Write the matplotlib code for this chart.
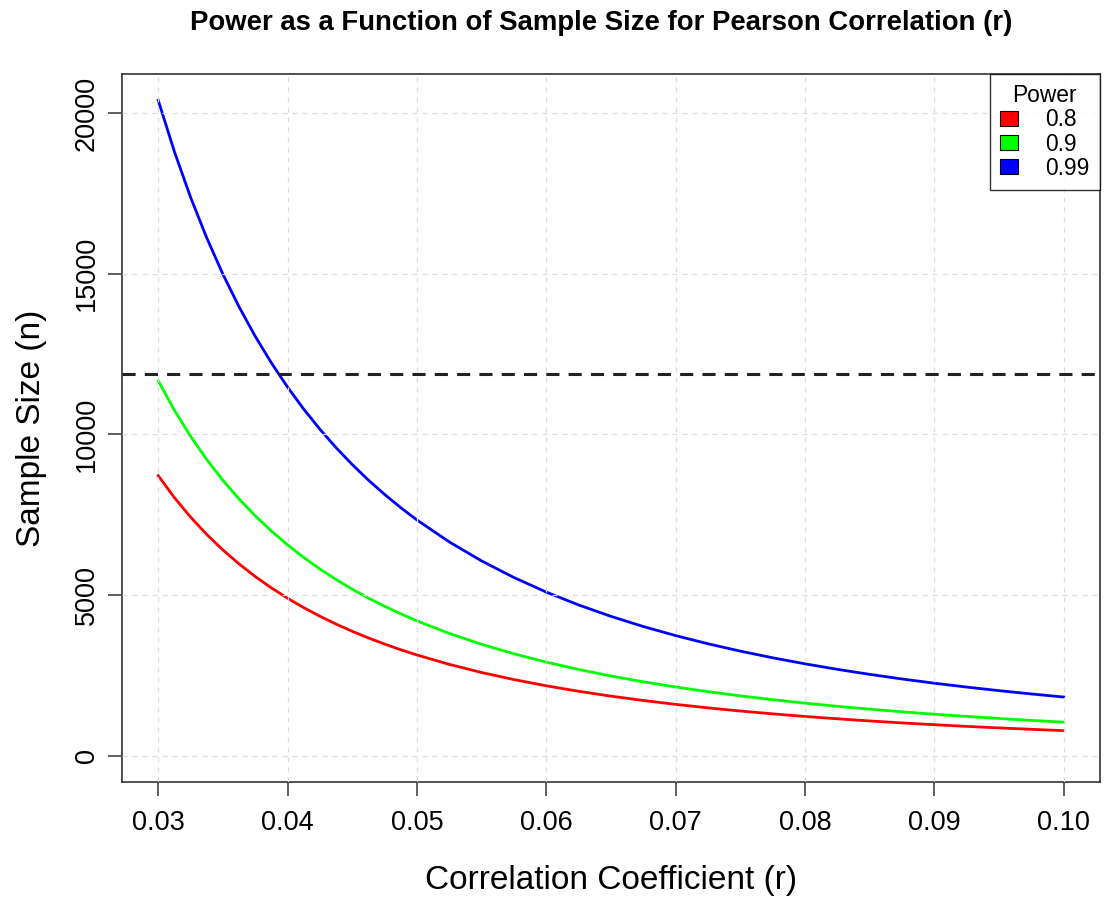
import matplotlib
matplotlib.use('Agg')
import matplotlib.pyplot as plt
import matplotlib.patches as mpatches

plt.rcParams['font.family'] = ['Liberation Sans', 'DejaVu Sans']

#  Correlation values and the sample size read for each power level
r_vals = [0.03, 0.03125, 0.0325, 0.03375, 0.035, 0.03625, 0.0375, 0.03875, 0.04,
          0.04125, 0.0425, 0.04375, 0.045, 0.04625, 0.0475, 0.04875, 0.05, 0.0525,
          0.055, 0.0575, 0.06, 0.0625, 0.065, 0.0675, 0.07, 0.0725, 0.075, 0.0775,
          0.08, 0.0825, 0.085, 0.0875, 0.09, 0.0925, 0.095, 0.0975, 0.1]
n_080 = [8719, 8035, 7429, 6888, 6405, 5971, 5579, 5225, 4903,
         4611, 4343, 4098, 3874, 3667, 3477, 3300, 3137, 2845,
         2592, 2372, 2178, 2007, 1856, 1721, 1600, 1491, 1393, 1305,
         1224, 1151, 1084, 1023, 967, 915, 868, 823, 783]
n_090 = [11672, 10756, 9944, 9221, 8574, 7992, 7468, 6994, 6564,
         6171, 5814, 5486, 5185, 4908, 4653, 4418, 4199, 3808,
         3470, 3174, 2915, 2686, 2483, 2302, 2141, 1995, 1864, 1746,
         1638, 1540, 1451, 1369, 1293, 1224, 1161, 1101, 1047]
n_099 = [20404, 18804, 17384, 16120, 14988, 13972, 13055, 12226, 11473,
         10788, 10162, 9589, 9063, 8579, 8134, 7721, 7339, 6656,
         6064, 5548, 5094, 4694, 4339, 4023, 3740, 3486, 3257, 3050,
         2862, 2690, 2534, 2390, 2259, 2138, 2027, 1924, 1828]
power_labels = ['0.8', '0.9', '0.99']
power_colors = ['#FF0000', '#00FF00', '#0000FF']
ref_n = 11870

x_ticks = [0.03, 0.04, 0.05, 0.06, 0.07, 0.08, 0.09, 0.10]
x_tick_labels = ['0.03', '0.04', '0.05', '0.06', '0.07', '0.08', '0.09', '0.10']
y_ticks = [0, 5000, 10000, 15000, 20000]

fig = plt.figure(figsize=(11.05, 9.01), dpi=100)
ax = fig.add_axes([122 / 1105, 1 - 782 / 901, 978 / 1105, 708 / 901])

#  Curves
for ys, c in zip([n_080, n_090, n_099], power_colors):
    ax.plot(r_vals, ys, color=c, linewidth=2.0, zorder=2, solid_joinstyle='round')

#  R-like 4% padding
xr = r_vals[-1] - r_vals[0]
ax.set_xlim(r_vals[0] - 0.04 * xr, r_vals[-1] + 0.04 * xr)
ymax = max(n_099)
ax.set_ylim(-0.04 * ymax, ymax * 1.04)

#  Grid drawn over the curves, like grid() after lines()
for xv in x_ticks:
    ax.axvline(xv, color='#DDDDDD', linewidth=0.9, linestyle=(0, (4, 4)), zorder=3)
for yv in y_ticks:
    ax.axhline(yv, color='#DDDDDD', linewidth=0.9, linestyle=(0, (4, 4)), zorder=3)

#  Reference line
ax.axhline(ref_n, color='#222222', linewidth=2.2, linestyle=(0, (4.3, 3)), zorder=4)

ax.set_xticks(x_ticks)
ax.set_xticklabels(x_tick_labels)
ax.set_yticks(y_ticks)
ax.set_yticklabels([str(v) for v in y_ticks], rotation=90, va='center')
ax.tick_params(axis='both', direction='out', length=10, width=1.2, color='#444444',
               labelsize=19.5, pad=6)
ax.tick_params(axis='x', pad=10)
for s in ax.spines.values():
    s.set_linewidth(1.2)
    s.set_color('#333333')

ax.set_xlabel('Correlation Coefficient (r)', fontsize=24, labelpad=21)
ax.set_ylabel('Sample Size (n)', fontsize=24, labelpad=19)
fig.text(601 / 1105, 1 - 23 / 901, 'Power as a Function of Sample Size for Pearson Correlation (r)',
         ha='center', va='center', fontsize=19.8, fontweight='bold')

handles = [mpatches.Patch(facecolor=c, edgecolor='black', linewidth=0.8) for c in power_colors]
leg = ax.legend(handles, power_labels, title='Power', loc='upper right',
                fontsize=16.4, title_fontsize=16.4, frameon=True, fancybox=False,
                borderaxespad=0, handlelength=0.8, handleheight=0.6,
                handletextpad=1.2, labelspacing=0.05, borderpad=0.45)
leg.get_frame().set_edgecolor('black')
leg.get_frame().set_linewidth(1.0)

fig.savefig('out.png', dpi=100)
